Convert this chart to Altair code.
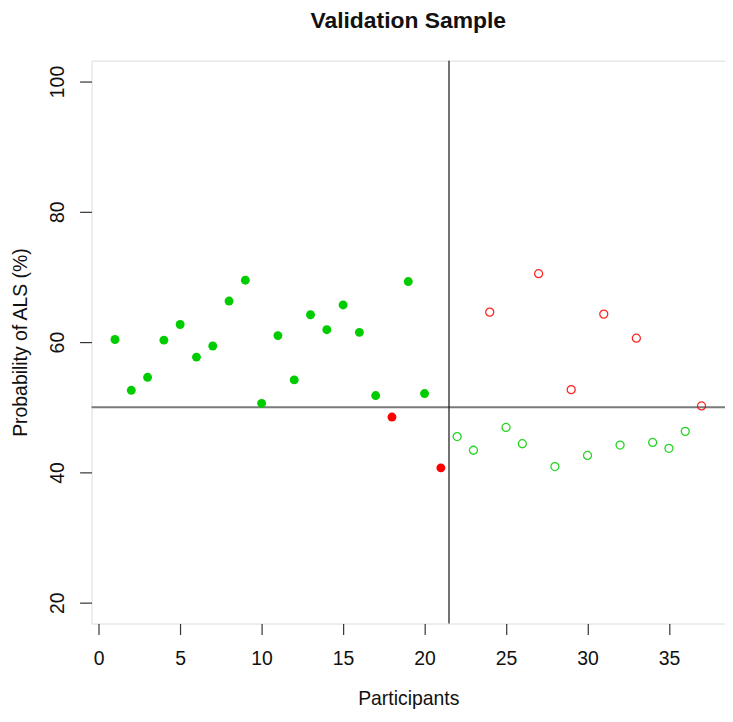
import altair as alt
import pandas as pd

participants = list(range(1, 38))
probability = [60.4, 52.6, 54.6, 60.3, 62.7, 57.7, 59.4, 66.3, 69.5, 50.6,
               61.0, 54.2, 64.2, 61.9, 65.7, 61.5, 51.8, 48.5, 69.3, 52.1,
               40.7, 45.5, 43.4, 64.6, 46.9, 44.4, 70.5, 40.9, 52.7, 42.6,
               64.3, 44.2, 60.6, 44.6, 43.7, 46.3, 50.2]
outcome = (["correct"] * 17 + ["incorrect", "correct", "correct", "incorrect"]
           + ["correct", "correct", "incorrect", "correct", "correct", "incorrect",
              "correct", "incorrect", "correct", "incorrect", "correct", "incorrect",
              "correct", "correct", "correct", "incorrect"])
sample_set = ["filled"] * 21 + ["open"] * 16

x_ticks = [0, 5, 10, 15, 20, 25, 30, 35]
y_ticks = [20, 40, 60, 80, 100]
cutoff_y = [50]
cutoff_x = [21.5]

df = pd.DataFrame({"participant": participants, "prob": probability,
                   "outcome": outcome, "set": sample_set})

xscale = alt.Scale(domain=[-0.44, 38.44], nice=False, zero=False)
yscale = alt.Scale(domain=[16.8, 103.2], nice=False, zero=False)
cscale = alt.Scale(domain=["correct", "incorrect"], range=["#00CD00", "#FF0000"])

xax = alt.Axis(values=x_ticks, title="Participants", grid=False, domain=False,
               tickSize=11, tickColor="#333", tickWidth=1.2, labelFontSize=19.5,
               labelPadding=15, titleFontSize=19.5, titleFontWeight="normal",
               titlePadding=22, labelColor="#111", titleColor="#111")
yax = alt.Axis(values=y_ticks, title="Probability of ALS (%)", grid=False, domain=False,
               tickSize=12, tickColor="#333", tickWidth=1.2, labelFontSize=19.5,
               labelAngle=-90, labelAlign="center", labelBaseline="bottom",
               labelPadding=12, titleFontSize=19.5, titleFontWeight="normal",
               titlePadding=17, labelColor="#111", titleColor="#111")

base = alt.Chart(df)

filled = base.transform_filter(alt.datum.set == "filled").mark_circle(
    size=80, opacity=1).encode(
    x=alt.X("participant:Q", scale=xscale, axis=xax),
    y=alt.Y("prob:Q", scale=yscale, axis=yax),
    color=alt.Color("outcome:N", scale=cscale, legend=None))

opened = base.transform_filter(alt.datum.set == "open").mark_point(
    size=65, filled=False, strokeWidth=1.3, opacity=0.85).encode(
    x=alt.X("participant:Q", scale=xscale),
    y=alt.Y("prob:Q", scale=yscale),
    color=alt.Color("outcome:N", scale=cscale, legend=None))

hline = alt.Chart(pd.DataFrame({"y": cutoff_y})).mark_rule(
    color="#7a7a7a", strokeWidth=2).encode(y=alt.Y("y:Q", scale=yscale))
vline = alt.Chart(pd.DataFrame({"x": cutoff_x})).mark_rule(
    color="#111", strokeWidth=1.2).encode(x=alt.X("x:Q", scale=xscale))

chart = alt.layer(hline, vline, filled, opened).properties(
    width=637, height=566,
    title=alt.TitleParams("Validation Sample", fontSize=23, fontWeight="bold",
                          font="Liberation Sans", offset=27, color="#111"),
    autosize=alt.AutoSizeParams(type="none"),
    padding={"left": 84, "top": 51, "right": 0, "bottom": 89},
).configure_view(stroke="#444", strokeWidth=1.5).configure(
    font="Liberation Sans").configure_axis(labelFont="Liberation Sans",
                                           titleFont="Liberation Sans")

chart.save("out.html", embed_options={"renderer": "svg", "actions": False})
